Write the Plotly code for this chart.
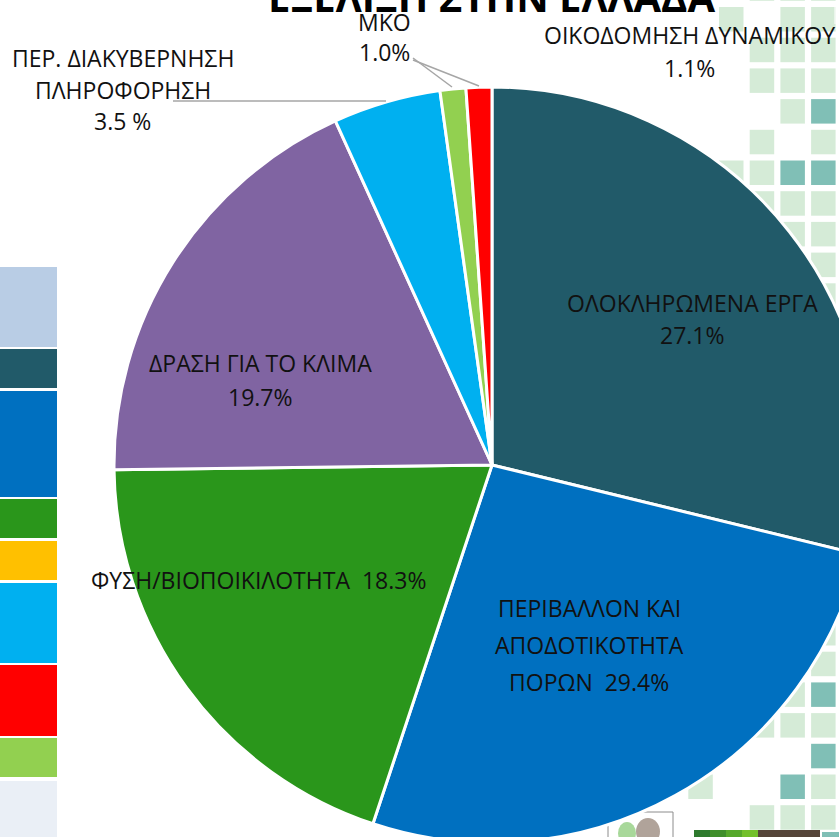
import plotly.graph_objects as go

# slice data (clockwise from 12 o'clock)
categories = ["ΟΛΟΚΛΗΡΩΜΕΝΑ ΕΡΓΑ", "ΠΕΡΙΒΑΛΛΟΝ ΚΑΙ\nΑΠΟΔΟΤΙΚΟΤΗΤΑ\nΠΟΡΩΝ", "ΦΥΣΗ/ΒΙΟΠΟΙΚΙΛΟΤΗΤΑ",
              "ΔΡΑΣΗ ΓΙΑ ΤΟ ΚΛΙΜΑ", "ΠΕΡ. ΔΙΑΚΥΒΕΡΝΗΣΗ\nΠΛΗΡΟΦΟΡΗΣΗ", "ΜΚΟ", "ΟΙΚΟΔΟΜΗΣΗ ΔΥΝΑΜΙΚΟΥ"]
shares = [28.8, 26.3, 19.7, 18.4, 4.6, 1.1, 1.1]   # slice sizes as drawn
pct_labels = ["27.1%", "29.4%", "18.3%", "19.7%", "3.5 %", "1.0%", "1.1%"]   # printed labels
pct_inline = [False, True, True, False, False, False, False]
colors = ["#215A69", "#0070C0", "#2A961B", "#8064A2", "#00B0F0", "#92D050", "#FF0000"]

title = "ΕΞΕΛΙΞΗ ΣΤΗΝ ΕΛΛΑΔΑ"

W, H = 900, 900
font = "Open Sans"


def px(x):
    return x / W


def py(y):
    return 1 - y / H


# pie geometry in pixels
cx, cy, r = 492, 465, 378

fig = go.Figure()
fig.add_trace(go.Pie(
    labels=[c.replace("\n", " ") for c in categories], values=shares,
    sort=False, direction="clockwise", rotation=0,
    marker=dict(colors=colors, line=dict(color="white", width=3)),
    textinfo="none", hoverinfo="label", showlegend=False,
    domain=dict(x=[px(cx - r), px(cx + r)], y=[py(cy + r), py(cy - r)]),
))

# label placement: first line center and line spacing
label_pos = [(692, 303, 32), (589, 608, 37), (258, 580, 0), (260, 363, 34),
             (123, 58, 31.5), (384, 22, 30), (689, 35, 33)]
label_size = 23

annotations = []
for name, pct, inline, (lx, ly, gap) in zip(categories, pct_labels, pct_inline, label_pos):
    text = name + ("  " if inline else "\n") + pct
    for i, line in enumerate(text.split("\n")):
        annotations.append(dict(x=px(lx), y=py(ly + i * gap), xref="paper", yref="paper",
                                text=line, showarrow=False, xanchor="center", yanchor="middle",
                                font=dict(family=font, size=label_size, color="#111111")))

annotations.append(dict(x=px(491), y=py(-3), xref="paper", yref="paper", text="<b>" + title + "</b>",
                        showarrow=False, xanchor="center", yanchor="middle",
                        font=dict(family=font, size=40, color="#000000")))

shapes = []


def rect(x0, y0, x1, y1, fill, line=None, layer="below"):
    shapes.append(dict(type="rect", xref="paper", yref="paper",
                       x0=px(x0), x1=px(x1), y0=py(y1), y1=py(y0),
                       fillcolor=fill, line=dict(width=0 if line is None else 1, color=line or fill),
                       layer=layer))


# left colour column (slide decoration)
side_blocks = [(267, 347, "#B9CDE5"), (349, 388, "#215A69"), (391, 497, "#0070C0"),
               (499, 538, "#2A961B"), (541, 580, "#FFC000"), (583, 663, "#00B0F0"),
               (665, 736, "#FF0000"), (738, 777, "#92D050"), (781, 840, "#EAEFF6")]
for y0, y1, c in side_blocks:
    rect(-2, y0, 57, y1, c)

# right square pattern (col, row, kind)
light, teal = "#D5EBD7", "#80BFB6"
cells = [(1, -1, 0), (2, -1, 0), (3, -1, 0),
         (0, 0, 0), (2, 0, 0), (3, 0, 0),
         (1, 1, 0), (2, 1, 0), (3, 1, 0),
         (1, 2, 0), (2, 2, 0), (3, 2, 0),
         (2, 3, 0), (3, 3, 1),
         (1, 4, 0), (3, 4, 0),
         (0, 5, 0), (1, 5, 0), (2, 5, 1), (3, 5, 1),
         (1, 6, 0), (2, 6, 0), (3, 6, 0),
         (2, 7, 0), (3, 7, 0),
         (2, 8, 0), (3, 8, 0),
         (3, 9, 0),
         (3, 20, 0),
         (2, 21, 0), (3, 21, 0),
         (2, 22, 0), (3, 22, 1),
         (1, 23, 0), (2, 23, 0), (3, 23, 0),
         (3, 24, 1),
         (-1, 25, 0), (2, 25, 1), (3, 25, 0),
         (1, 26, 0), (2, 26, 0), (3, 26, 0)]
for col, row, kind in cells:
    x0 = 719 + 30.7 * col
    y0 = 7 + 30.7 * row
    rect(x0, y0, x0 + 24.5, y0 + 24.5, teal if kind else light)

# bottom logos (rough)
rect(608, 812, 673, 845, "rgba(0,0,0,0)", line="#8C8C8C")
shapes.append(dict(type="circle", xref="paper", yref="paper", x0=px(618), x1=px(636), y0=py(845), y1=py(822),
                   fillcolor="#A8D89A", line=dict(width=0), layer="below"))
shapes.append(dict(type="circle", xref="paper", yref="paper", x0=px(636), x1=px(660), y0=py(845), y1=py(818),
                   fillcolor="#B0A39A", line=dict(width=0), layer="below"))
for i, c in enumerate(["#2E7A2E", "#3F8F2A", "#55A82A", "#72C02A"]):
    rect(694 + i * 16, 830, 710 + i * 16, 845, c)
rect(758, 830, 820, 845, "#554539")
rect(822, 832, 845, 845, "#80BFB6")

# leader lines
for x0, y0, x1, y1 in [(173, 101, 386, 101), (413, 58, 452, 87), (413, 60, 479, 86)]:
    shapes.append(dict(type="line", xref="paper", yref="paper", x0=px(x0), y0=py(y0), x1=px(x1), y1=py(y1),
                       line=dict(color="#A6A6A6", width=1.5), layer="above"))

fig.update_layout(width=W, height=H, margin=dict(l=0, r=0, t=0, b=0),
                  paper_bgcolor="white", plot_bgcolor="white",
                  annotations=annotations, shapes=shapes, showlegend=False)

fig.write_html("out.html", post_script="document.body.style.margin='0';"
                                       "document.body.style.overflow='hidden';"
                                       "document.documentElement.style.overflow='hidden';")
